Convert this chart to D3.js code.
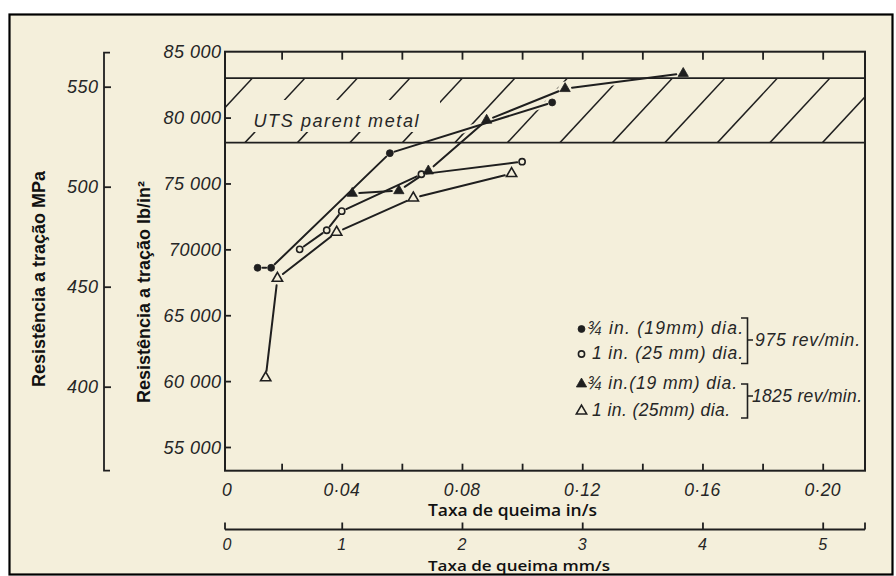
<!DOCTYPE html>
<html>
<head>
<meta charset="utf-8">
<script src="https://cdn.jsdelivr.net/npm/d3@7"></script>
<style>
  html, body { margin: 0; padding: 0; background: #ffffff; }
  svg { display: block; }
</style>
</head>
<body>
<svg id="chart" width="896" height="576"></svg>
<script>
// ---- Data: friction-weld tensile strength against burn-off rate ----
// 3/4 in. (19 mm) bar, 975 rev/min  (filled circles)
const burnRate19mm975 = [0.012, 0.0165, 0.056, 0.110];
const strength19mm975 = [68600, 68600, 77300, 81150];
// 1 in. (25 mm) bar, 975 rev/min  (open circles)
const burnRate25mm975 = [0.026, 0.035, 0.040, 0.0665, 0.100];
const strength25mm975 = [70000, 71450, 72900, 75700, 76650];
// 3/4 in. (19 mm) bar, 1825 rev/min  (filled triangles)
const burnRate19mm1825 = [0.0435, 0.059, 0.0688, 0.0882, 0.1143, 0.1536];
const strength19mm1825 = [74250, 74450, 75950, 79800, 82200, 83350];
// 1 in. (25 mm) bar, 1825 rev/min  (open triangles)
const burnRate25mm1825 = [0.0147, 0.0186, 0.0383, 0.0638, 0.0965];
const strength25mm1825 = [60250, 67800, 71300, 73900, 75750];

// UTS of parent metal (lb/in²), shown as a hatched band
const utsBand = [78100, 83000];
const utsLabel = "UTS parent metal";

// Axis ticks and labels
const inTickValues = [0.02, 0.04, 0.06, 0.08, 0.10, 0.12, 0.14, 0.16, 0.18, 0.20];
const inLabelValues = [0, 0.04, 0.08, 0.12, 0.16, 0.20];
const inLabels = ["0", "0·04", "0·08", "0·12", "0·16", "0·20"];
const mmTickValues = [0, 1, 2, 3, 4, 5];
const mmLabels = ["0", "1", "2", "3", "4", "5"];
const psiTickValues = [55000, 60000, 65000, 70000, 75000, 80000, 85000];
const psiLabels = ["55 000", "60 000", "65 000", "70000", "75 000", "80 000", "85 000"];
const mpaTickValues = [400, 450, 500, 550];
const mpaLabels = ["400", "450", "500", "550"];

// Legend
const legendLabels = ["¾ in. (19mm) dia.", "1 in. (25 mm) dia.", "¾ in.(19 mm) dia.", "1 in. (25mm) dia."];
const legendSymbols = ["circle", "circle", "triangle", "triangle"];
const legendFilled = [true, false, true, false];
const speedLabels = ["975 rev/min.", "1825 rev/min."];

const xTitle = "Taxa de queima in/s";
const xMmTitle = "Taxa de queima mm/s";
const yMpaTitle = "Resistência a tração MPa";
const yPsiTitle = "Resistência a tração lb/in²";

// ---- Layout & styles ----
const paper = "#f4efdb";
const ink = "#1f1f1f";
const textInk = "#262626";
const numFont = "'Liberation Sans', Arial, sans-serif";
const frame = { left: 225, right: 865, top: 51.7, bottom: 470.7 };

const svg = d3.select("#chart");

const x = d3.scaleLinear().domain([0, 0.20]).range([221.5, 822.7]);
const xMM = d3.scaleLinear().domain([0, 5]).range([x(0), x(0.20)]);
const y = d3.scaleLinear().domain([55000, 85000]).range([447, 51.7]);
const yMPa = d3.scaleLinear().domain([400, 550]).range([386.7, 86.7]);

// page + border
svg.append("rect").attr("width", 896).attr("height", 576).attr("fill", "#ffffff");
svg.append("rect").attr("x", 9.5).attr("y", 14.5).attr("width", 883).attr("height", 560)
  .attr("fill", paper).attr("stroke", "#000").attr("stroke-width", 2.2);

// ---- UTS band with hatching ----
const bandTop = y(utsBand[1]), bandBot = y(utsBand[0]);
svg.append("clipPath").attr("id", "bandClip").append("rect")
  .attr("x", frame.left).attr("y", bandTop)
  .attr("width", frame.right - frame.left).attr("height", bandBot - bandTop);

const hatch = svg.append("g").attr("clip-path", "url(#bandClip)");
const hatchStep = 52.5, hatchRise = 60, hatchStart = 245;
hatch.selectAll("line").data(d3.range(-2, 14)).join("line")
  .attr("x1", k => hatchStart + hatchStep * k).attr("y1", bandBot)
  .attr("x2", k => hatchStart + hatchStep * k + hatchRise).attr("y2", bandTop)
  .attr("stroke", ink).attr("stroke-width", 1.5);
// clear area behind the band label
hatch.append("rect").attr("x", 246).attr("y", 100).attr("width", 194).attr("height", 32)
  .attr("fill", paper);

svg.append("text").attr("x", 253.5).attr("y", 127)
  .attr("font-family", numFont).attr("font-style", "italic").attr("font-size", 18)
  .attr("textLength", 165).attr("lengthAdjust", "spacing")
  .attr("fill", textInk).text(utsLabel);

// ---- Series ----
const series = [
  { xs: burnRate19mm975, ys: strength19mm975, symbol: "circle", filled: true },
  { xs: burnRate25mm975, ys: strength25mm975, symbol: "circle", filled: false },
  { xs: burnRate19mm1825, ys: strength19mm1825, symbol: "triangle", filled: true },
  { xs: burnRate25mm1825, ys: strength25mm1825, symbol: "triangle", filled: false }
];

function segments(s) {
  const pts = s.xs.map((v, i) => [x(v), y(s.ys[i])]);
  return d3.pairs(pts);
}
function trimmed(seg, t) {
  const [[x1, y1], [x2, y2]] = seg;
  const dx = x2 - x1, dy = y2 - y1, len = Math.hypot(dx, dy);
  const ux = dx / len, uy = dy / len;
  const tt = Math.min(t, len / 2 - 0.8);
  return [x1 + ux * tt, y1 + uy * tt, x2 - ux * tt, y2 - uy * tt];
}

// paper-coloured halos so hatching breaks around the curves
const halo = svg.append("g");
series.forEach(s => {
  halo.selectAll(null).data(segments(s)).join("line")
    .attr("x1", d => d[0][0]).attr("y1", d => d[0][1])
    .attr("x2", d => d[1][0]).attr("y2", d => d[1][1])
    .attr("stroke", paper).attr("stroke-width", 6);
  halo.selectAll(null).data(s.xs).join("circle")
    .attr("cx", (d) => x(d)).attr("cy", (d, i) => y(s.ys[i])).attr("r", 7)
    .attr("fill", paper);
});

// connecting lines, stopping short of the markers
const lines = svg.append("g");
series.forEach(s => {
  const t = s.symbol === "circle" ? 5 : 7;
  lines.selectAll(null).data(segments(s).map(seg => trimmed(seg, t))).join("line")
    .attr("x1", d => d[0]).attr("y1", d => d[1]).attr("x2", d => d[2]).attr("y2", d => d[3])
    .attr("stroke", ink).attr("stroke-width", 2).attr("stroke-linecap", "round");
});

function symbolPath(kind, filled) {
  if (kind === "circle") return d3.symbol(d3.symbolCircle, filled ? 38 : 30)();
  return d3.symbol(d3.symbolTriangle, 46)();
}
function styleMarker(sel, filled) {
  sel.attr("fill", filled ? ink : paper).attr("stroke", ink)
    .attr("stroke-width", filled ? 0.8 : 1.6);
}

const marks = svg.append("g");
series.forEach(s => {
  marks.selectAll(null).data(s.xs).join("path")
    .attr("d", symbolPath(s.symbol, s.filled))
    .attr("transform", (d, i) => `translate(${x(d)},${y(s.ys[i])})`)
    .call(styleMarker, s.filled);
});

// ---- Plot frame and band edges ----
const frameG = svg.append("g").attr("fill", "none").attr("stroke", ink).attr("stroke-width", 2);
frameG.append("rect").attr("x", frame.left).attr("y", frame.top)
  .attr("width", frame.right - frame.left).attr("height", frame.bottom - frame.top);
[bandTop, bandBot].forEach(v => frameG.append("line")
  .attr("x1", frame.left).attr("x2", frame.right).attr("y1", v).attr("y2", v)
  .attr("stroke-width", 1.8));

function styleAxis(g, w) {
  g.select(".domain").remove();
  g.selectAll(".tick line").attr("stroke", ink).attr("stroke-width", w);
  g.selectAll(".tick text").remove();
}

// bottom in/s ticks (pointing up) and top ticks (pointing down)
svg.append("g").attr("transform", `translate(0,${frame.bottom})`)
  .call(d3.axisBottom(x).tickValues(inTickValues).tickSize(-7)).call(styleAxis, 1.8);
svg.append("g").attr("transform", `translate(0,${frame.top})`)
  .call(d3.axisTop(x).tickValues(inTickValues).tickSize(-8)).call(styleAxis, 1.8);

svg.append("g").selectAll("text").data(inLabelValues).join("text")
  .attr("x", d => Math.max(x(d), frame.left + 2)).attr("y", 495.5)
  .attr("text-anchor", "middle")
  .attr("font-family", numFont).attr("font-style", "italic").attr("font-size", 17.5)
  .attr("letter-spacing", 0.4).attr("fill", textInk)
  .text((d, i) => inLabels[i]);

// mm/s axis
const mmY = 529.5;
svg.append("line").attr("x1", frame.left).attr("x2", frame.right).attr("y1", mmY).attr("y2", mmY)
  .attr("stroke", ink).attr("stroke-width", 1.8);
svg.append("g").attr("transform", `translate(0,${mmY})`)
  .call(d3.axisBottom(xMM).tickValues(mmTickValues.filter(v => v > 0)).tickSize(-7)).call(styleAxis, 1.8);
[frame.left, frame.right].forEach(v => svg.append("line")
  .attr("x1", v).attr("x2", v).attr("y1", mmY).attr("y2", mmY - 7)
  .attr("stroke", ink).attr("stroke-width", 1.8));
svg.append("g").selectAll("text").data(mmTickValues).join("text")
  .attr("x", d => Math.max(xMM(d), frame.left + 2)).attr("y", 550)
  .attr("text-anchor", "middle")
  .attr("font-family", numFont).attr("font-style", "italic").attr("font-size", 16)
  .attr("fill", textInk)
  .text((d, i) => mmLabels[i]);

// lb/in² axis (ticks inward)
svg.append("g").attr("transform", `translate(${frame.left},0)`)
  .call(d3.axisLeft(y).tickValues(psiTickValues.filter(v => v < 85000)).tickSize(-6)).call(styleAxis, 1.8);
svg.append("g").selectAll("text").data(psiTickValues).join("text")
  .attr("x", 221.5).attr("y", d => y(d) + 6.5)
  .attr("text-anchor", "end")
  .attr("font-family", numFont).attr("font-style", "italic").attr("font-size", 18)
  .attr("letter-spacing", 0.5).attr("fill", textInk)
  .text((d, i) => psiLabels[i]);

// MPa axis, drawn as a separate bracketed scale
const mpaX = 104;
const mpaTop = yMPa(567), mpaBot = yMPa(358);
svg.append("path")
  .attr("d", `M${mpaX + 6},${mpaTop}H${mpaX}V${mpaBot}H${mpaX + 6}`)
  .attr("fill", "none").attr("stroke", ink).attr("stroke-width", 1.8);
svg.append("g").attr("transform", `translate(${mpaX},0)`)
  .call(d3.axisRight(yMPa).tickValues(mpaTickValues).tickSize(7)).call(styleAxis, 1.8);
svg.append("g").selectAll("text").data(mpaTickValues).join("text")
  .attr("x", 98.5).attr("y", d => yMPa(d) + 6.5)
  .attr("text-anchor", "end")
  .attr("font-family", numFont).attr("font-style", "italic").attr("font-size", 18)
  .attr("letter-spacing", 0.5).attr("fill", textInk)
  .text((d, i) => mpaLabels[i]);

// ---- Axis titles ----
const titleFont = "'Liberation Sans', Arial, sans-serif";
svg.append("text").attr("transform", "translate(45,279) rotate(-90)")
  .attr("text-anchor", "middle").attr("font-family", titleFont).attr("font-weight", "bold")
  .attr("font-size", 18).attr("fill", "#111").text(yMpaTitle);
svg.append("text").attr("transform", "translate(150,292) rotate(-90)")
  .attr("text-anchor", "middle").attr("font-family", titleFont).attr("font-weight", "bold")
  .attr("font-size", 18).attr("fill", "#111").text(yPsiTitle);

const xTitleFont = "'Open Sans', 'Noto Sans', sans-serif";
svg.append("text").attr("x", 428).attr("y", 515.5)
  .attr("font-family", xTitleFont).attr("font-weight", 600).attr("font-size", 16)
  .attr("textLength", 169).attr("lengthAdjust", "spacingAndGlyphs")
  .attr("fill", "#111").text(xTitle);
svg.append("text").attr("x", 428).attr("y", 571)
  .attr("font-family", xTitleFont).attr("font-weight", 600).attr("font-size", 15)
  .attr("textLength", 182).attr("lengthAdjust", "spacingAndGlyphs")
  .attr("fill", "#111").text(xMmTitle);

// ---- Legend ----
const legendRowsY = [328, 353, 383, 410];
const legendTextX = [587, 592, 587, 592];
const legendTextW = [156, 151, 150, 138];
const legend = svg.append("g");
legendLabels.forEach((label, i) => {
  legend.append("path")
    .attr("d", symbolPath(legendSymbols[i], legendFilled[i]))
    .attr("transform", `translate(581.5,${legendRowsY[i] + 1})`)
    .call(styleMarker, legendFilled[i]);
  legend.append("text").attr("x", legendTextX[i]).attr("y", legendRowsY[i] + 6)
    .attr("font-family", numFont).attr("font-style", "italic").attr("font-size", 17.5)
    .attr("textLength", legendTextW[i]).attr("lengthAdjust", "spacing")
    .attr("fill", textInk).text(label);
});

// brackets grouping the two speeds
const brackets = [
  { top: 318, bottom: 363.5, mid: 340, textX: 755, width: 105 },
  { top: 384, bottom: 418, mid: 396, textX: 752, width: 110 }
];
brackets.forEach((b, i) => {
  legend.append("path")
    .attr("d", `M741,${b.top}H747.5V${b.bottom}H741M747.5,${b.mid}H753`)
    .attr("fill", "none").attr("stroke", ink).attr("stroke-width", 1.6);
  legend.append("text").attr("x", b.textX).attr("y", b.mid + 6)
    .attr("font-family", numFont).attr("font-style", "italic").attr("font-size", 17.5)
    .attr("textLength", b.width).attr("lengthAdjust", "spacing")
    .attr("fill", textInk).text(speedLabels[i]);
});
</script>
</body>
</html>
